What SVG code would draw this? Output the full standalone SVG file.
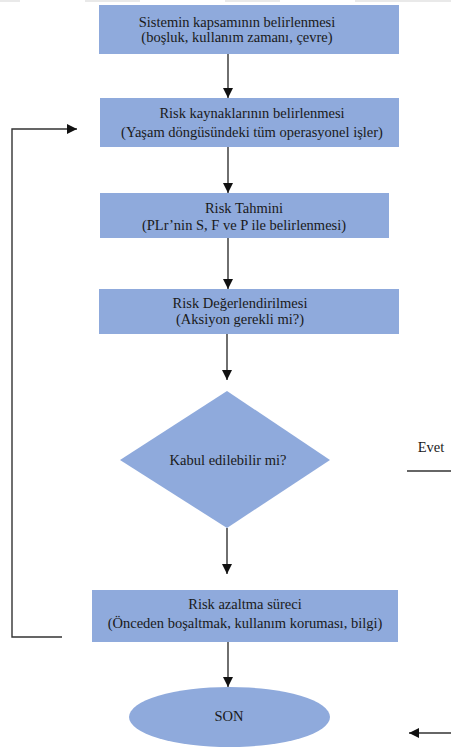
<svg xmlns="http://www.w3.org/2000/svg" width="451" height="749" viewBox="0 0 451 749">
  <style>
    .box { fill: #8faadc; }
    .lbl { font-family: "Liberation Serif", "Times New Roman", serif; font-size: 14.5px; fill: #1a1a1a; text-anchor: middle; }
    .wire { fill: none; stroke: #333333; stroke-width: 1.4; }
  </style>
  <defs>
    <marker id="head" viewBox="0 0 10 10" refX="10" refY="5" markerWidth="10" markerHeight="10" markerUnits="userSpaceOnUse" orient="auto">
      <path d="M0,0 L10,5 L0,10 Z" fill="#111111"/>
    </marker>
  </defs>

  <rect width="451" height="749" fill="#ffffff"/>
  <!-- faint page edge along the top -->
  <g fill="#e9e9e9">
    <rect x="0" y="0" width="20" height="2"/>
    <rect x="85" y="0" width="55" height="2"/>
    <rect x="225" y="0" width="55" height="2"/>
    <rect x="355" y="0" width="96" height="2"/>
  </g>

  <g id="connectors">
    <line class="wire" x1="228" y1="54" x2="228" y2="98" marker-end="url(#head)"/>
    <line class="wire" x1="228" y1="147" x2="228" y2="193" marker-end="url(#head)"/>
    <line class="wire" x1="228" y1="238" x2="228" y2="289" marker-end="url(#head)"/>
    <line class="wire" x1="227" y1="334" x2="227" y2="380" marker-end="url(#head)"/>
    <line class="wire" x1="227" y1="528" x2="227" y2="574" marker-end="url(#head)"/>
    <line class="wire" x1="228" y1="642" x2="228" y2="687" marker-end="url(#head)"/>
    <!-- loop back from risk reduction to hazard identification -->
    <polyline class="wire" points="62,637 12,637 12,129 77,129" marker-end="url(#head)"/>
    <!-- "Evet" branch -->
    <line class="wire" x1="407" y1="471" x2="451" y2="471"/>
    <line class="wire" x1="451" y1="733" x2="409" y2="733" marker-end="url(#head)"/>
  </g>

  <g id="scope">
    <rect class="box" x="99" y="5" width="300" height="49"/>
    <text class="lbl" x="237" y="27">Sistemin kapsamının belirlenmesi</text>
    <text class="lbl" x="237" y="42">(boşluk, kullanım zamanı, çevre)</text>
  </g>

  <g id="hazards">
    <rect class="box" x="100" y="98" width="299" height="49"/>
    <text class="lbl" x="252" y="118">Risk kaynaklarının belirlenmesi</text>
    <text class="lbl" x="252" y="137">(Yaşam döngüsündeki tüm operasyonel işler)</text>
  </g>

  <g id="estimation">
    <rect class="box" x="100" y="193" width="289" height="45"/>
    <text class="lbl" x="244" y="213">Risk Tahmini</text>
    <text class="lbl" x="244" y="230">(PLr’nin S, F ve P ile belirlenmesi)</text>
  </g>

  <g id="evaluation">
    <rect class="box" x="99" y="289" width="300" height="45"/>
    <text class="lbl" x="240" y="308">Risk Değerlendirilmesi</text>
    <text class="lbl" x="240" y="324">(Aksiyon gerekli mi?)</text>
  </g>

  <g id="decision">
    <polygon class="box" points="227,391 330,460 227,528 120,460"/>
    <text class="lbl" x="228" y="465">Kabul edilebilir mi?</text>
  </g>

  <g id="yes-label">
    <text class="lbl" x="431" y="452">Evet</text>
  </g>

  <g id="reduction">
    <rect class="box" x="92" y="590" width="306" height="52"/>
    <text class="lbl" x="245" y="609">Risk azaltma süreci</text>
    <text class="lbl" x="245" y="628">(Önceden boşaltmak, kullanım koruması, bilgi)</text>
  </g>

  <g id="end">
    <ellipse class="box" cx="229.5" cy="717" rx="100.5" ry="30"/>
    <text class="lbl" x="229" y="721">SON</text>
  </g>
</svg>
